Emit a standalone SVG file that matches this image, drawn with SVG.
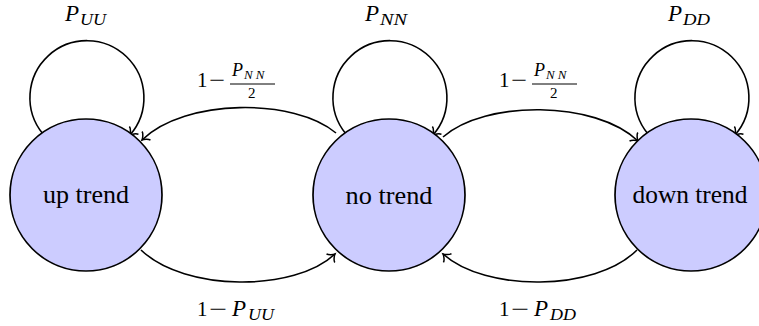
<svg xmlns="http://www.w3.org/2000/svg" width="759" height="326" viewBox="0 0 759 326">
<style>
.node circle{fill:#ccccff;stroke:#000;stroke-width:1.7}
.node text{font-family:'Liberation Serif','Times New Roman',serif;font-size:25px;text-anchor:middle;fill:#000}
.edge{fill:none;stroke:#000;stroke-width:1.6;marker-end:url(#arr)}
.lbl{font-family:'Liberation Serif','Times New Roman',serif;font-size:21px;fill:#000}
.it{font-style:italic;font-size:23px}
.sub{font-style:italic;font-size:16px}
.num{font-style:italic;font-size:18px}
.subsub{font-style:italic;font-size:13px;letter-spacing:3px}
.den{font-size:15px}
</style>
<defs>
<marker id="arr" markerUnits="userSpaceOnUse" markerWidth="16" markerHeight="16" viewBox="-10 -8 16 16" refX="0" refY="0" orient="auto" overflow="visible">
<path d="M -6,-6 C -5.5,-3.5 -1.5,-0.6 0,0 C -1.5,0.6 -5.5,3.5 -6,6" fill="none" stroke="#000" stroke-width="1.5"/>
</marker>
</defs>
<g id="connectors">
<path class="edge" d="M 43,134 A 57 57 0 1 1 130,135"/>
<path class="edge" d="M 346,134 A 57 57 0 1 1 433,135"/>
<path class="edge" d="M 648,134 A 57 57 0 1 1 735,135"/>
<path class="edge" d="M 336,133 C 295,98 185,98 142,140"/>
<path class="edge" d="M 141,250 C 185,292 295,292 335,254"/>
<path class="edge" d="M 443,137 C 485,100 595,100 638,141"/>
<path class="edge" d="M 637,250 C 595,292 485,292 443,254"/>
</g>
<g id="up" class="node"><circle cx="86" cy="195" r="76"/><text x="86" y="203" textLength="86" lengthAdjust="spacingAndGlyphs">up trend</text></g>
<g id="no" class="node"><circle cx="389" cy="195" r="76"/><text x="389" y="204" textLength="87" lengthAdjust="spacingAndGlyphs">no trend</text></g>
<g id="down" class="node"><circle cx="691" cy="195" r="76"/><text x="690" y="203" textLength="115" lengthAdjust="spacingAndGlyphs">down trend</text></g>
<g id="labels">
<text class="lbl"><tspan class="it" x="65" y="21">P</tspan><tspan class="sub" x="80" y="25" textLength="26" lengthAdjust="spacingAndGlyphs">UU</tspan></text>
<text class="lbl"><tspan class="it" x="365" y="21">P</tspan><tspan class="sub" x="380" y="25" textLength="27" lengthAdjust="spacingAndGlyphs">NN</tspan></text>
<text class="lbl"><tspan class="it" x="668" y="21">P</tspan><tspan class="sub" x="683" y="25" textLength="27" lengthAdjust="spacingAndGlyphs">DD</tspan></text>
<text class="lbl"><tspan x="197" y="316">1</tspan><tspan x="209" y="316" textLength="18" lengthAdjust="spacingAndGlyphs">−</tspan><tspan class="it" x="232" y="316">P</tspan><tspan class="sub" x="248" y="320" textLength="26" lengthAdjust="spacingAndGlyphs">UU</tspan></text>
<text class="lbl"><tspan x="499" y="316">1</tspan><tspan x="511" y="316" textLength="18" lengthAdjust="spacingAndGlyphs">−</tspan><tspan class="it" x="534" y="316">P</tspan><tspan class="sub" x="550" y="320" textLength="26" lengthAdjust="spacingAndGlyphs">DD</tspan></text>
<text class="lbl"><tspan x="197" y="87">1</tspan><tspan x="209" y="87" textLength="16" lengthAdjust="spacingAndGlyphs">−</tspan><tspan class="num" x="232" y="76">P</tspan><tspan class="subsub" x="244" y="79">NN</tspan><tspan class="den" x="248" y="98">2</tspan></text>
<line x1="230" y1="84" x2="275" y2="84" stroke="#000" stroke-width="1"/>
<text class="lbl"><tspan x="499" y="87">1</tspan><tspan x="511" y="87" textLength="16" lengthAdjust="spacingAndGlyphs">−</tspan><tspan class="num" x="534" y="76">P</tspan><tspan class="subsub" x="546" y="79">NN</tspan><tspan class="den" x="550" y="98">2</tspan></text>
<line x1="532" y1="84" x2="577" y2="84" stroke="#000" stroke-width="1"/>
</g>
</svg>
